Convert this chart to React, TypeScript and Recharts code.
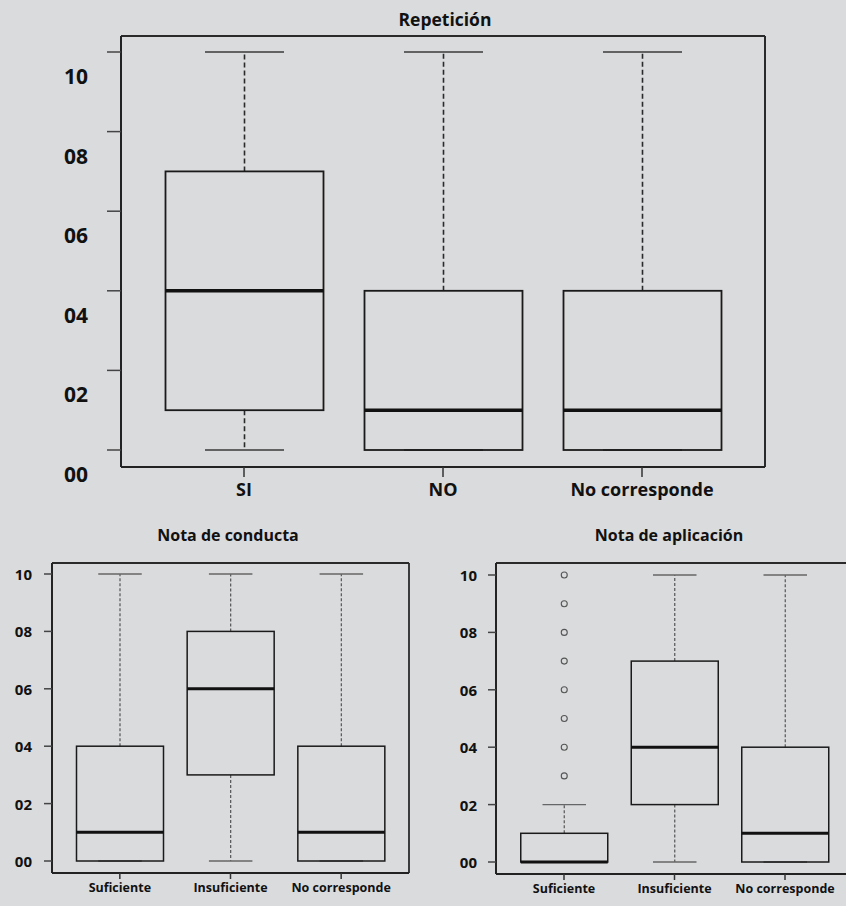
import React from 'react';
import { ComposedChart, Bar, XAxis, YAxis, CartesianGrid } from 'recharts';

// ---- data -------------------------------------------------------------
const yTicks = [0, 2, 4, 6, 8, 10];
const yTickLabels = ['00', '02', '04', '06', '08', '10'];

const repCategories = ['SI', 'NO', 'No corresponde'];
const repMin = [0, 0, 0];
const repQ1 = [1, 0, 0];
const repMedian = [4, 1, 1];
const repQ3 = [7, 4, 4];
const repMax = [10, 10, 10];
const repOutliers: number[][] = [[], [], []];

const condCategories = ['Suficiente', 'Insuficiente', 'No corresponde'];
const condMin = [0, 0, 0];
const condQ1 = [0, 3, 0];
const condMedian = [1, 6, 1];
const condQ3 = [4, 8, 4];
const condMax = [10, 10, 10];
const condOutliers: number[][] = [[], [], []];

const aplCategories = ['Suficiente', 'Insuficiente', 'No corresponde'];
const aplMin = [0, 0, 0];
const aplQ1 = [0, 2, 0];
const aplMedian = [0, 4, 1];
const aplQ3 = [1, 7, 4];
const aplMax = [2, 10, 10];
const aplOutliers: number[][] = [[3, 4, 5, 6, 7, 8, 9, 10], [], []];

type Row = {
  name: string;
  lo: number;
  q1: number;
  median: number;
  q3: number;
  hi: number;
  outliers: number[];
};

const buildRows = (
  cats: string[],
  mn: number[],
  q1: number[],
  md: number[],
  q3: number[],
  mx: number[],
  out: number[][]
): Row[] =>
  cats.map((name, i) => ({
    name,
    lo: mn[i],
    q1: q1[i],
    median: md[i],
    q3: q3[i],
    hi: mx[i],
    outliers: out[i],
  }));

const repRows = buildRows(repCategories, repMin, repQ1, repMedian, repQ3, repMax, repOutliers);
const condRows = buildRows(condCategories, condMin, condQ1, condMedian, condQ3, condMax, condOutliers);
const aplRows = buildRows(aplCategories, aplMin, aplQ1, aplMedian, aplQ3, aplMax, aplOutliers);

// ---- styles -----------------------------------------------------------
const BG = '#dadbdd';
const FONT = '"Open Sans", "DejaVu Sans", sans-serif';

type BoxStyle = {
  box: string;
  boxW: number;
  medianW: number;
  whisker: string;
  whiskerW: number;
  dash: string;
  cap: string;
  capW: number;
};

const bigStyle: BoxStyle = {
  box: '#1a1a1a',
  boxW: 1.8,
  medianW: 3.6,
  whisker: '#2a2a2a',
  whiskerW: 1.6,
  dash: '5 3',
  cap: '#3a3a3a',
  capW: 1.6,
};

const smallStyle: BoxStyle = {
  box: '#1a1a1a',
  boxW: 1.5,
  medianW: 3,
  whisker: '#555',
  whiskerW: 1.2,
  dash: '3 2',
  cap: '#666',
  capW: 1.3,
};

// Box-and-whisker glyph drawn inside the pixel extent the Bar receives
// for the [lo, hi] whisker range.
const makeBoxShape = (st: BoxStyle) => (props: any) => {
  const { x, y, width, height, payload } = props;
  const top = Math.min(y, y + height);
  const bottom = Math.max(y, y + height);
  const span = payload.hi - payload.lo || 1;
  const py = (v: number) => bottom - ((v - payload.lo) / span) * (bottom - top);
  const cx = x + width / 2;
  const capHalf = width / 4;
  const yq1 = py(payload.q1);
  const yq3 = py(payload.q3);
  const ymed = py(payload.median);
  const ylo = py(payload.lo);
  const yhi = py(payload.hi);
  return (
    <g>
      {payload.hi > payload.q3 && (
        <line x1={cx} x2={cx} y1={yq3} y2={yhi} stroke={st.whisker} strokeWidth={st.whiskerW} strokeDasharray={st.dash} />
      )}
      {payload.lo < payload.q1 && (
        <line x1={cx} x2={cx} y1={yq1} y2={ylo} stroke={st.whisker} strokeWidth={st.whiskerW} strokeDasharray={st.dash} />
      )}
      <line x1={cx - capHalf} x2={cx + capHalf} y1={yhi} y2={yhi} stroke={st.cap} strokeWidth={st.capW} />
      <line x1={cx - capHalf} x2={cx + capHalf} y1={ylo} y2={ylo} stroke={st.cap} strokeWidth={st.capW} />
      <rect x={x} y={yq3} width={width} height={yq1 - yq3} fill="none" stroke={st.box} strokeWidth={st.boxW} />
      <line x1={x} x2={x + width} y1={ymed} y2={ymed} stroke="#111" strokeWidth={st.medianW} />
      {payload.outliers.map((v: number) => (
        <circle key={v} cx={cx} cy={py(v)} r={3} fill="none" stroke="#555" strokeWidth={1.1} />
      ))}
    </g>
  );
};

const labelFor = (v: number) => {
  const i = yTicks.indexOf(v);
  return i >= 0 ? yTickLabels[i] : String(v);
};

const makeYTick = (fontSize: number, shift: number) => (props: any) => {
  const { x, y, payload } = props;
  return (
    <text x={x} y={y + shift} textAnchor="end" dominantBaseline="central" fontSize={fontSize} fontWeight={700} fontFamily={FONT} fill="#111">
      {labelFor(payload.value)}
    </text>
  );
};

const makeXTick = (fontSize: number) => (props: any) => {
  const { x, y, payload } = props;
  return (
    <text x={x} y={y} dy="0.71em" textAnchor="middle" fontSize={fontSize} fontWeight={700} fontFamily={FONT} fill="#111">
      {payload.value}
    </text>
  );
};

// Grid lines placed only on the edges of the plot area -> a closed frame.
const frameRows = ({ offset }: any) => [offset.top, offset.top + offset.height];
const frameCols = ({ offset }: any) => [offset.left, offset.left + offset.width];

type PanelProps = {
  rows: Row[];
  width: number;
  height: number;
  margin: { top: number; right: number; bottom: number; left: number };
  yAxisWidth: number;
  xAxisHeight: number;
  yPad: { top: number; bottom: number };
  xPad: { left: number; right: number };
  barSize: number;
  st: BoxStyle;
  yTickSize: number;
  yTickMargin: number;
  yLabelSize: number;
  yLabelShift: number;
  xTickSize: number;
  xTickMargin: number;
  xLabelSize: number;
  frameW: number;
};

const Panel = (p: PanelProps) => {
  const frame = { stroke: '#222', strokeWidth: p.frameW };
  return (
    <ComposedChart width={p.width} height={p.height} data={p.rows} margin={p.margin}>
      <CartesianGrid
        stroke="#2a2a2a"
        strokeWidth={p.frameW}
        horizontalCoordinatesGenerator={frameRows}
        verticalCoordinatesGenerator={frameCols}
      />
      <XAxis
        dataKey="name"
        type="category"
        height={p.xAxisHeight}
        padding={p.xPad}
        axisLine={frame}
        tickLine={{ stroke: '#333', strokeWidth: 1.5 }}
        tickSize={p.xTickSize}
        tickMargin={p.xTickMargin}
        tick={makeXTick(p.xLabelSize)}
        interval={0}
      />
      <YAxis
        type="number"
        domain={[0, 10]}
        ticks={yTicks}
        width={p.yAxisWidth}
        padding={p.yPad}
        axisLine={frame}
        tickLine={{ stroke: '#444', strokeWidth: 1.5 }}
        tickSize={p.yTickSize}
        tickMargin={p.yTickMargin}
        tick={makeYTick(p.yLabelSize, p.yLabelShift)}
        interval={0}
      />
      <Bar
        dataKey={(d: Row) => [d.lo, d.hi]}
        barSize={p.barSize}
        shape={makeBoxShape(p.st)}
        isAnimationActive={false}
      />
    </ComposedChart>
  );
};

const Title = ({ text, cx, top, size }: { text: string; cx: number; top: number; size: number }) => (
  <div
    style={{
      position: 'absolute',
      left: cx - 200,
      width: 400,
      top,
      textAlign: 'center',
      fontFamily: FONT,
      fontWeight: 700,
      fontSize: size,
      lineHeight: `${size}px`,
      color: '#111',
      whiteSpace: 'nowrap',
    }}
  >
    {text}
  </div>
);

export default function App() {
  return (
    <div
      style={{
        position: 'fixed',
        left: 0,
        top: 0,
        width: 846,
        height: 906,
        overflow: 'hidden',
        background: BG,
      }}
    >
      <div style={{ position: 'absolute', left: 0, top: 0, width: 846 }}>
        <Panel
          rows={repRows}
          width={846}
          height={520}
          margin={{ top: 36, right: 81, bottom: 23, left: 61 }}
          yAxisWidth={60}
          xAxisHeight={30}
          yPad={{ top: 16, bottom: 17 }}
          xPad={{ left: 23.5, right: 23.5 }}
          barSize={158}
          st={bigStyle}
          yTickSize={14}
          yTickMargin={19}
          yLabelSize={21}
          yLabelShift={24}
          xTickSize={10}
          xTickMargin={6}
          xLabelSize={18}
          frameW={2}
        />
      </div>
      <Title text="Repetición" cx={445} top={11} size={17.5} />

      <div style={{ position: 'absolute', left: 0, top: 520, width: 423 }}>
        <Panel
          rows={condRows}
          width={423}
          height={386}
          margin={{ top: 43, right: 14, bottom: 8, left: 12 }}
          yAxisWidth={40}
          xAxisHeight={25}
          yPad={{ top: 11, bottom: 12 }}
          xPad={{ left: 12.5, right: 12.5 }}
          barSize={87}
          st={smallStyle}
          yTickSize={8}
          yTickMargin={12}
          yLabelSize={15}
          yLabelShift={0}
          xTickSize={6}
          xTickMargin={4}
          xLabelSize={12.5}
          frameW={1.8}
        />
      </div>
      <Title text="Nota de conducta" cx={228} top={527} size={16} />

      {/* this panel runs past the right edge of the page */}
      <div style={{ position: 'absolute', left: 423, top: 520, width: 500 }}>
        <Panel
          rows={aplRows}
          width={500}
          height={386}
          margin={{ top: 43, right: 40, bottom: 7, left: 33 }}
          yAxisWidth={40}
          xAxisHeight={25}
          yPad={{ top: 12, bottom: 12 }}
          xPad={{ left: 12.75, right: 42.75 }}
          barSize={87}
          st={smallStyle}
          yTickSize={8}
          yTickMargin={11}
          yLabelSize={15}
          yLabelShift={0}
          xTickSize={6}
          xTickMargin={4}
          xLabelSize={12.5}
          frameW={1.8}
        />
      </div>
      <Title text="Nota de aplicación" cx={669} top={527} size={16} />
    </div>
  );
}
